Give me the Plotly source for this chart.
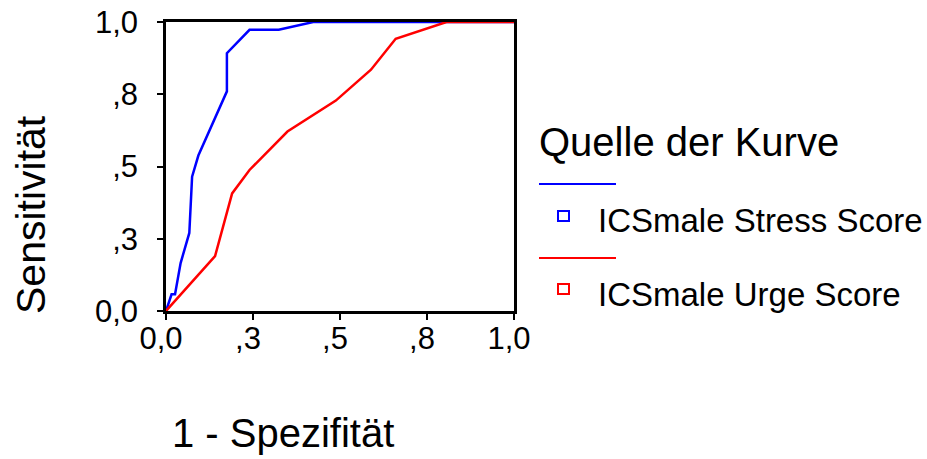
import plotly.graph_objects as go

# ROC data
stress_fpr = [0.0, 0.016, 0.026, 0.042, 0.067, 0.075, 0.093, 0.175, 0.175, 0.24, 0.324, 0.423, 1.0]
stress_sens = [0.0, 0.058, 0.058, 0.166, 0.27, 0.465, 0.538, 0.76, 0.892, 0.973, 0.973, 1.0, 1.0]
urge_fpr = [0.0, 0.141, 0.19, 0.24, 0.349, 0.488, 0.589, 0.66, 0.806, 1.0]
urge_sens = [0.0, 0.19, 0.407, 0.488, 0.621, 0.728, 0.835, 0.942, 1.0, 1.0]

tick_vals = [0, 0.25, 0.5, 0.75, 1.0]
tick_text = ["0,0", ",3", ",5", ",8", "1,0"]

series_names = ["ICSmale Stress Score", "ICSmale Urge Score"]
legend_title = "Quelle der Kurve"
x_title = "1 - Spezifität"
y_title = "Sensitivität"

BLUE = "#0000FF"
RED = "#FF0000"
FONT = "Liberation Sans, Arial, sans-serif"

fig = go.Figure()
fig.add_trace(go.Scatter(x=stress_fpr, y=stress_sens, mode="lines",
                         line=dict(color=BLUE, width=2.5), cliponaxis=False,
                         name=series_names[0], showlegend=False))
fig.add_trace(go.Scatter(x=urge_fpr, y=urge_sens, mode="lines",
                         line=dict(color=RED, width=2.5), cliponaxis=False,
                         name=series_names[1], showlegend=False))

axis_common = dict(range=[0, 1], tickvals=tick_vals, ticktext=tick_text,
                   showgrid=False, zeroline=False, showline=True,
                   linecolor="black", linewidth=2.5, mirror=True,
                   ticks="outside", ticklen=6, tickwidth=2, tickcolor="black",
                   automargin=False,
                   tickfont=dict(family=FONT, size=31, color="black"))

fig.update_xaxes(**axis_common, ticklabelstandoff=-8, ticklabelshift=-5)
fig.update_yaxes(**axis_common, ticklabelstandoff=13)

def px(xp):
    return (xp - 166) / 348.0

def py(yp):
    return (311 - yp) / 289.0

annotations = [
    dict(text=y_title, x=px(31), y=py(215), textangle=-90,
         font=dict(family=FONT, size=41, color="black")),
    dict(text=x_title, x=px(283), y=py(433),
         font=dict(family=FONT, size=40, color="black")),
    dict(text=legend_title, x=px(537), y=py(142), xanchor="left",
         font=dict(family=FONT, size=40, color="black")),
    dict(text=series_names[0], x=px(596), y=py(220), xanchor="left",
         font=dict(family=FONT, size=33, color="black")),
    dict(text=series_names[1], x=px(596), y=py(294), xanchor="left",
         font=dict(family=FONT, size=33, color="black")),
]
for a in annotations:
    a.setdefault("xanchor", "center")
    a.update(xref="paper", yref="paper", yanchor="middle", showarrow=False)

shapes = [
    dict(type="line", x0=px(539), x1=px(616), y0=py(184), y1=py(184),
         line=dict(color=BLUE, width=2)),
    dict(type="rect", x0=px(558), x1=px(569), y0=py(221), y1=py(211),
         line=dict(color=BLUE, width=2)),
    dict(type="line", x0=px(539), x1=px(616), y0=py(258), y1=py(258),
         line=dict(color=RED, width=2)),
    dict(type="rect", x0=px(558), x1=px(569), y0=py(294), y1=py(284),
         line=dict(color=RED, width=2)),
]
for s in shapes:
    s.update(xref="paper", yref="paper")

fig.update_layout(width=927, height=459, autosize=False,
                  margin=dict(l=166, r=413, t=22, b=148),
                  paper_bgcolor="white", plot_bgcolor="white",
                  annotations=annotations, shapes=shapes,
                  font=dict(family=FONT, color="black"))

fig.write_html("out.html")
